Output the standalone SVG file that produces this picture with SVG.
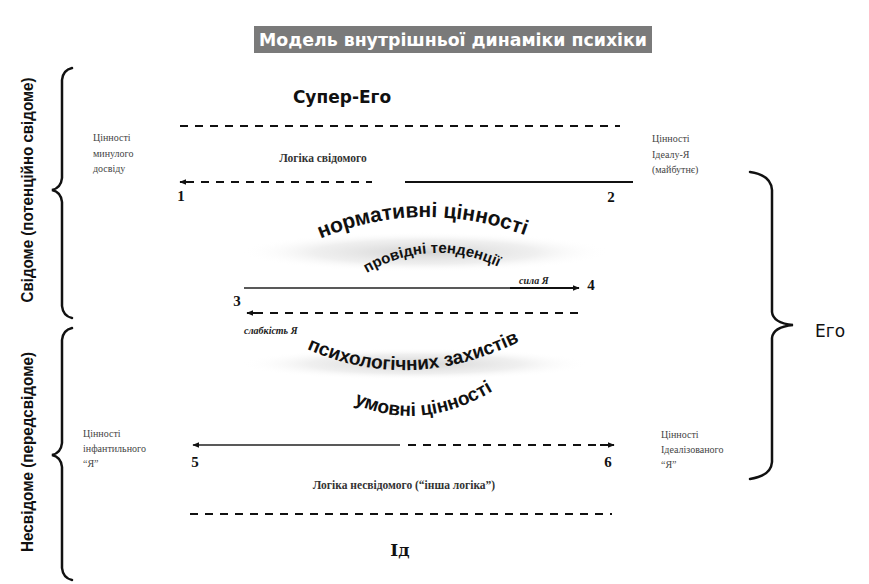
<svg xmlns="http://www.w3.org/2000/svg" xmlns:xlink="http://www.w3.org/1999/xlink" width="869" height="584" viewBox="0 0 869 584">
<style>
.bg{fill:#ffffff}
.ln{stroke:#111;stroke-width:2;fill:none}
.dash{stroke:#111;stroke-width:2;fill:none;stroke-dasharray:8 7}
.thin{stroke:#222;stroke-width:1.3;fill:none}
.brace{stroke:#111;stroke-width:2.5;fill:none;stroke-linecap:round}
.side{font-family:"Liberation Serif",serif;font-size:10px;fill:#444}
.num{font-family:"Liberation Serif",serif;font-size:15px;font-weight:bold;fill:#111}
.logic{font-family:"Liberation Serif",serif;font-size:11.5px;font-weight:bold;fill:#333}
.head{font-family:"DejaVu Sans",sans-serif;font-size:17px;fill:#111}
.arc{font-family:"Liberation Sans",sans-serif;font-weight:bold;fill:#111}
.it{font-family:"Liberation Serif",serif;font-size:10px;font-style:italic;font-weight:bold;fill:#222}
.vert{font-family:"Liberation Sans",sans-serif;font-size:16px;font-weight:bold;fill:#111}
</style>
<defs>
<marker id="arr" viewBox="0 0 10 10" refX="9" refY="5" markerWidth="7" markerHeight="7" orient="auto-start-reverse" markerUnits="userSpaceOnUse">
<path d="M0,1 L10,5 L0,9 Z" fill="#111"/>
</marker>
<radialGradient id="haze" cx="50%" cy="50%" r="50%">
<stop offset="0" stop-color="#c4c4c4" stop-opacity="0.75"/>
<stop offset="0.6" stop-color="#dcdcdc" stop-opacity="0.45"/>
<stop offset="1" stop-color="#ffffff" stop-opacity="0"/>
</radialGradient>
<path id="p1" d="M304 246 Q420 190 542 242"/>
<path id="p2" d="M350 284 Q430 226 516 276"/>
<path id="p3" d="M296 344 Q410 400 530 336"/>
<path id="p4" d="M336 394 Q418 444 510 380"/>
</defs>
<rect class="bg" x="0" y="0" width="869" height="584"/>

<g id="title">
<rect x="254" y="26" width="398" height="27" fill="#7a7a7a"/>
<text x="453" y="46" text-anchor="middle" font-family="DejaVu Sans, sans-serif" font-size="18" font-weight="bold" fill="#ffffff" textLength="388" lengthAdjust="spacingAndGlyphs">Модель внутрішньої динаміки психіки</text>
</g>

<g id="haze">
<ellipse cx="425" cy="252" rx="185" ry="20" fill="url(#haze)"/>
<ellipse cx="415" cy="364" rx="175" ry="16" fill="url(#haze)"/>
</g>

<g id="super-ego"><text class="head" x="342" y="103" text-anchor="middle" font-weight="bold">Супер-Его</text></g>
<g id="id"><text x="400" y="556" text-anchor="middle" font-family="DejaVu Serif, serif" font-size="17" font-weight="bold" fill="#111">Ід</text></g>
<g id="ego"><text class="head" x="815" y="337" font-size="18">Его</text></g>

<g id="connectors">
<line class="dash" x1="180" y1="126" x2="620" y2="126"/>
<line class="dash" x1="186" y1="182" x2="372" y2="182"/>
<line class="ln" x1="186" y1="182" x2="180" y2="182" marker-end="url(#arr)"/>
<line class="ln" x1="405" y1="182" x2="633" y2="182"/>
<line class="thin" x1="244" y1="288" x2="510" y2="288"/>
<line class="ln" x1="510" y1="288" x2="579" y2="288" marker-end="url(#arr)"/>
<line class="dash" x1="255" y1="313" x2="580" y2="313"/>
<line class="ln" x1="256" y1="313" x2="247" y2="313" marker-end="url(#arr)"/>
<line class="thin" x1="400" y1="445" x2="193" y2="445" marker-end="url(#arr)"/>
<line class="dash" x1="408" y1="445" x2="606" y2="445"/>
<line class="ln" x1="600" y1="445" x2="614" y2="445" marker-end="url(#arr)"/>
<line class="dash" x1="190" y1="514" x2="612" y2="514"/>
</g>

<g id="braces">
<path class="brace" d="M72 68 Q63 70 62 80 L62 178 Q61 188 52 190 Q61 192 62 202 L62 306 Q63 316 72 318"/>
<path class="brace" d="M72 328 Q63 330 62 340 L62 443 Q61 453 52 455 Q61 457 62 467 L62 568 Q63 578 72 580"/>
<path class="brace" d="M750 172 Q771 175 772 190 L772 312 Q773 323 793 325 Q773 327 772 338 L772 462 Q771 476 750 479"/>
</g>

<g id="consc-label"><text class="vert" transform="translate(33,190) rotate(-90)" text-anchor="middle" textLength="225" lengthAdjust="spacingAndGlyphs">Свідоме (потенційно свідоме)</text></g>
<g id="unconsc-label"><text class="vert" transform="translate(33,452) rotate(-90)" text-anchor="middle" textLength="200" lengthAdjust="spacingAndGlyphs">Несвідоме (передсвідоме)</text></g>

<g id="past-values"><text class="side" x="93" y="141">Цінності<tspan x="93" y="157">минулого</tspan><tspan x="93" y="172">досвіду</tspan></text></g>
<g id="ideal-values"><text class="side" x="652" y="142">Цінності<tspan x="652" y="158">Ідеалу-Я</tspan><tspan x="652" y="173">(майбутнє)</tspan></text></g>
<g id="infant-values"><text class="side" x="83" y="437">Цінності<tspan x="83" y="452">інфантильного</tspan><tspan x="83" y="467">“Я”</tspan></text></g>
<g id="idealized-values"><text class="side" x="661" y="438">Цінності<tspan x="661" y="453">Ідеалізованого</tspan><tspan x="661" y="468">“Я”</tspan></text></g>

<g id="logic-conscious"><text class="logic" x="323" y="162" text-anchor="middle">Логіка свідомого</text></g>
<g id="logic-unconscious"><text class="logic" x="404" y="489" text-anchor="middle">Логіка несвідомого (“інша логіка”)</text></g>

<g id="numbers">
<text class="num" x="181" y="201" text-anchor="middle">1</text>
<text class="num" x="611" y="202" text-anchor="middle">2</text>
<text class="num" x="237" y="306" text-anchor="middle">3</text>
<text class="num" x="591" y="290" text-anchor="middle">4</text>
<text class="num" x="195" y="467" text-anchor="middle">5</text>
<text class="num" x="608" y="467" text-anchor="middle">6</text>
</g>

<g id="ego-strength"><text class="it" x="519" y="284">сила Я</text></g>
<g id="ego-weakness"><text class="it" x="244" y="334">слабкість Я</text></g>

<g id="normative"><text class="arc" font-size="21"><textPath href="#p1" startOffset="50%" text-anchor="middle">нормативні цінності</textPath></text></g>
<g id="tendencies"><text class="arc" font-size="15"><textPath href="#p2" startOffset="50%" text-anchor="middle">провідні тенденції</textPath></text></g>
<g id="defenses"><text class="arc" font-size="19"><textPath href="#p3" startOffset="50%" text-anchor="middle">психологічних захистів</textPath></text></g>
<g id="conditional"><text class="arc" font-size="19"><textPath href="#p4" startOffset="50%" text-anchor="middle">умовні цінності</textPath></text></g>
</svg>
